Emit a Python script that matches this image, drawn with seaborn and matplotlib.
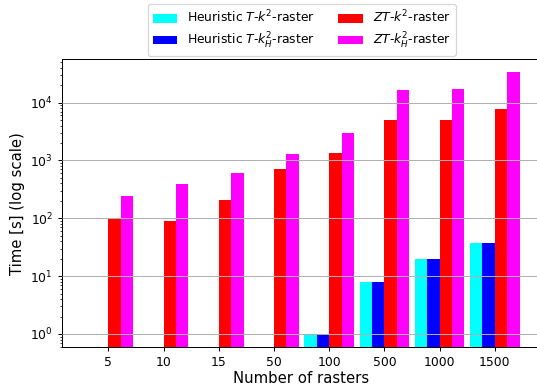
import numpy as np
import pandas as pd
import seaborn as sns
import matplotlib
matplotlib.use('Agg')
import matplotlib.pyplot as plt

# Raster counts (x categories)
rasters = ['5', '10', '15', '50', '100', '500', '1000', '1500']

# Running times in seconds (NaN = not run)
heur_k2 = [np.nan, np.nan, np.nan, np.nan, 1.0, 7.9, 19.6, 36.7]
heur_k2h = [np.nan, np.nan, np.nan, np.nan, 1.0, 7.9, 19.6, 36.7]
zt_k2 = [97, 89, 205, 725, 1350, 5100, 5000, 7600]
zt_k2h = [245, 385, 600, 1270, 3000, 16300, 17300, 33500]

methods = ['Heuristic $T$-$k^2$-raster', 'Heuristic $T$-$k^2_H$-raster',
           '$ZT$-$k^2$-raster', '$ZT$-$k^2_H$-raster']
colors = ['cyan', 'blue', 'red', 'magenta']

# long format table for seaborn
df = pd.DataFrame({
    'rasters': rasters * 4,
    'time': heur_k2 + heur_k2h + zt_k2 + zt_k2h,
    'method': np.repeat(methods, len(rasters)),
})

DPI = 89.5
fig = plt.figure(figsize=(537 / DPI, 385 / DPI), dpi=DPI)
ax = fig.add_axes([61.7 / 537, 38 / 385, 479.7 / 537, 287.7 / 385])

sns.barplot(data=df, x='rasters', y='time', hue='method', order=rasters,
            hue_order=methods, palette=colors, saturation=1, width=0.9,
            errorbar=None, linewidth=0, ax=ax)

ax.set_yscale('log')
ax.set_ylim(0.596, 56000)
ax.set_xlim(-0.845, 7.845)

# grid drawn above the bars
ax.set_axisbelow(False)
ax.grid(axis='y', which='major', color='#b0b0b0')

ax.set_xlabel('Number of rasters', fontsize=12, labelpad=2)
ax.set_ylabel('Time [s] (log scale)', fontsize=12)
ax.tick_params(axis='both', labelsize=10)

sns.move_legend(ax, 'lower center', bbox_to_anchor=(0.5, 1.0), ncol=2,
                title=None, fontsize=10, columnspacing=1.8,
                borderaxespad=0.3, labelspacing=0.4)

fig.savefig('out.png', dpi=DPI)
